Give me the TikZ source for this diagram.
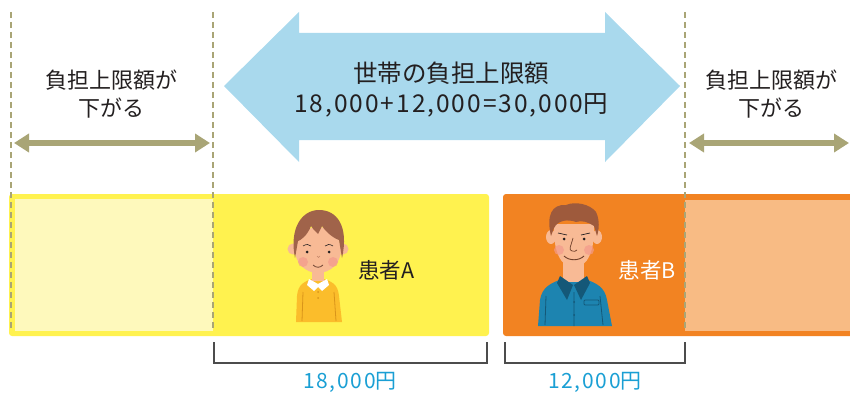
\documentclass[tikz,border=0pt]{standalone}
\usepackage{fontspec}
\setmainfont{Noto Sans CJK JP}
\newfontfamily\latn{Noto Sans CJK JP}[LetterSpace=8]
\usetikzlibrary{arrows.meta}
\definecolor{olive}{HTML}{A9A576}
\definecolor{skyfill}{HTML}{A9D9ED}
\definecolor{ylw}{HTML}{FFF24F}
\definecolor{ylwlight}{HTML}{FEF9BC}
\definecolor{org}{HTML}{F28322}
\definecolor{orglight}{HTML}{F8BB84}
\definecolor{txt}{HTML}{231F20}
\definecolor{amount}{HTML}{1A9FD4}
\definecolor{skin}{HTML}{F8BA95}
\definecolor{cheek}{HTML}{F39A8C}
\definecolor{hairA}{HTML}{A0634A}
\definecolor{hairB}{HTML}{9E5A3C}
\definecolor{shirtA}{HTML}{FBBD2B}
\definecolor{shirtAdark}{HTML}{D9951A}
\definecolor{shirtB}{HTML}{1D84B0}
\definecolor{shirtBdark}{HTML}{145878}
\tikzset{
  guide/.style={olive, line width=2pt, dash pattern=on 6pt off 4pt},
  shift arrow/.style={olive, line width=5.5pt, {Triangle[width=18pt,length=15pt]}-{Triangle[width=18pt,length=15pt]}},
  sidetext/.style={txt, align=center, inner sep=0pt, font=\fontsize{22}{28}\selectfont},
  maintext/.style={txt, align=center, inner sep=0pt, font=\fontsize{24.5}{30}\selectfont},
  nametext/.style={inner sep=0pt, font=\fontsize{21.5}{24}\selectfont},
  amounttext/.style={amount, inner sep=0pt, font=\fontsize{21}{24}\selectfont},
  brace/.style={draw=black!70, line width=1.2pt},
}
\begin{document}
\begin{tikzpicture}[x=1pt,y=-1pt]
\useasboundingbox (0,0) rectangle (850,393);

% patient bands
\fill[ylw, rounded corners=3pt] (9,194) rectangle (489,336);
\fill[ylwlight] (15,199) rectangle (213,331);
\fill[org, rounded corners=3pt] (503,194) rectangle (860,336);
\fill[orglight] (685,200) rectangle (850,331);

% guide lines
\coordinate (g1t) at (11,12);  \coordinate (g1b) at (11,331);
\coordinate (g2t) at (213,12); \coordinate (g2b) at (213,331);
\coordinate (g3t) at (685,12); \coordinate (g3b) at (685,331);
\draw[guide] (g1t) -- (g1b);
\draw[guide] (g2t) -- (g2b);
\draw[guide] (g3t) -- (g3b);

% household cap arrow
\fill[skyfill] (224,86) -- (299,12) -- (299,33) -- (605,33) -- (605,12)
  -- (680,86) -- (605,162) -- (605,140) -- (299,140) -- (299,162) -- cycle;
\node[maintext] (cap) at (451,90) {世帯の負担上限額\\{\latn 18,000+12,000=30,000}円};

% lowered cap arrows
\coordinate (la) at (14,143);  \coordinate (lb) at (210,143);
\coordinate (ra) at (689,143); \coordinate (rb) at (849,143);
\draw[shift arrow] (la) -- (lb);
\draw[shift arrow] (ra) -- (rb);
\node[sidetext] (lowL) at (111,94) {負担上限額が\\下がる};
\node[sidetext] (lowR) at (771,94) {負担上限額が\\下がる};

% patient A (boy)
\fill[shirtA] (296,322) -- (297,296) .. controls (298,284) and (305,281) .. (312,279)
  -- (324,279) .. controls (331,281) and (338,284) .. (339,296) -- (342,322) -- cycle;
\draw[shirtAdark, line width=0.8pt] (303,292) -- (302,321) (334,292) -- (336,321);
\fill[skin] (312,266) rectangle (324,281);
\fill[white] (309,279) -- (318,284) -- (327,279) -- (329,285) -- (322,291) -- (318,287) -- (314,291) -- (307,285) -- cycle;
\fill[shirtAdark] (318,292) circle (1pt) (318,298) circle (1pt);
\fill[skin] (293,249) circle (5.5pt) (343,249) circle (5.5pt);
\fill[skin] (318,250) ellipse (23pt and 23pt);
\fill[hairA] (295,258) .. controls (289,228) and (302,210) .. (319,210)
  .. controls (337,210) and (349,226) .. (342,258)
  -- (339,240) .. controls (333,238) and (326,232) .. (322,226)
  -- (318,234) .. controls (314,230) and (312,228) .. (311,226)
  .. controls (307,236) and (301,240) .. (298,241) -- cycle;
\fill[txt] (307,252) circle (1.5pt) (329,252) circle (1.5pt);
\draw[txt, line width=0.6pt] (303,246) .. controls (306,244) and (309,244) .. (311,246);
\draw[txt, line width=0.6pt] (325,246) .. controls (327,244) and (330,244) .. (333,246);
\fill[cheek, opacity=0.7] (303,262) circle (5pt) (333,262) circle (5pt);
\draw[hairA!70!black, line width=0.8pt] (313,265) .. controls (316,268) and (320,268) .. (323,265);
\draw[hairA!60!skin, line width=0.6pt] (317,256) .. controls (318,258) and (319,258) .. (320,256);
\node[nametext, txt, anchor=west] (pA) at (358,270) {患者{\latn A}};

% patient B (man)
\fill[shirtB] (538,326) -- (540,300) .. controls (542,287) and (551,283) .. (562,279)
  -- (585,279) .. controls (596,283) and (605,287) .. (607,300) -- (612,326) -- cycle;
\draw[shirtBdark, line width=0.8pt] (546,296) -- (545,325) (600,296) -- (603,325) (574,292) -- (574,326);
\fill[shirtBdark] (574,302) circle (1pt) (574,315) circle (1pt);
\draw[shirtBdark, line width=0.8pt, rounded corners=1pt] (584,300) rectangle (599,305);
\fill[skin] (563,258) rectangle (584,282);
\fill[shirtBdark] (560,276) -- (573,285) -- (567,300) -- (557,283) -- cycle;
\fill[shirtBdark] (587,276) -- (574,285) -- (581,300) -- (590,283) -- cycle;
\fill[skin] (551,237) ellipse (5pt and 7pt) (597,237) ellipse (5pt and 7pt);
\fill[skin] (554,224) .. controls (553,250) and (560,267) .. (574,268)
  .. controls (588,267) and (595,250) .. (594,224) -- cycle;
\fill[hairB] (551,236) .. controls (546,215) and (552,204) .. (566,205)
  .. controls (575,201) and (590,204) .. (596,212)
  .. controls (600,220) and (599,230) .. (597,236)
  -- (594,226) .. controls (588,222) and (582,220) .. (576,222)
  .. controls (568,219) and (558,220) .. (554,228) -- cycle;
\fill[txt] (564,239) circle (1.5pt) (584,239) circle (1.5pt);
\draw[txt, line width=0.7pt] (558,233) -- (567,235) (581,235) -- (590,233);
\draw[hairB!70!black, line width=0.7pt] (573,238) .. controls (571,246) and (568,250) .. (572,251) .. controls (574,252) and (576,251) .. (577,250);
\draw[hairB!70!black, line width=0.9pt] (564,256) .. controls (569,261) and (579,261) .. (584,256);
\fill[cheek, opacity=0.7] (559,250) circle (5pt) (589,250) circle (5pt);
\node[nametext, white, anchor=east] (pB) at (676,270) {患者{\latn B}};

% amount brackets
\coordinate (a1) at (214,342); \coordinate (a2) at (487,342);
\coordinate (b1) at (505,342); \coordinate (b2) at (685,342);
\draw[brace] (a1) |- (350,363) -| (a2);
\draw[brace] (b1) |- (595,363) -| (b2);
\node[amounttext] (amtA) at (350,382) {{\latn 18,000}円};
\node[amounttext] (amtB) at (595,382) {{\latn 12,000}円};
\end{tikzpicture}
\end{document}
